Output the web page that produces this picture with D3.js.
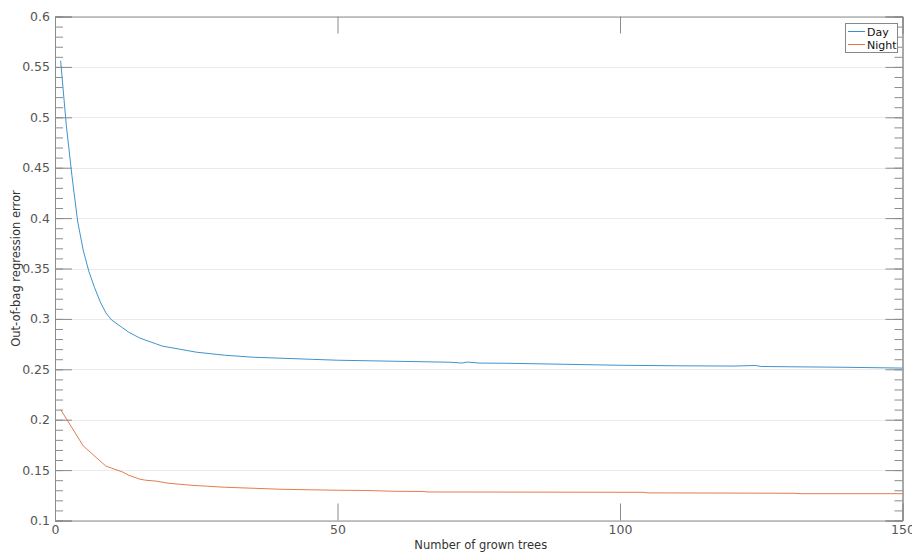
<!DOCTYPE html>
<html>
<head>
<meta charset="utf-8">
<script src="https://cdn.jsdelivr.net/npm/d3@7"></script>
<style>
  html, body { margin: 0; padding: 0; background: #fff; }
  svg { display: block; }
  text { font-family: "DejaVu Sans", "Open Sans", sans-serif; }
</style>
</head>
<body>
<svg id="chart" width="912" height="552"></svg>
<script>
// ---- data ----
const dayTrees   = [1,2,3,4,5,6,7,8,9,10,11,12,13,14,15,16,17,18,19,20,22,25,30,35,40,45,50,60,70,72,73,75,80,90,100,110,120,124,125,130,140,150];
const dayError   = [0.556,0.492,0.442,0.397,0.368,0.347,0.331,0.317,0.306,0.299,0.295,0.291,0.287,0.284,0.281,0.279,0.277,0.275,0.273,0.272,0.270,0.267,0.264,0.262,0.261,0.260,0.259,0.258,0.257,0.2562,0.2572,0.2562,0.256,0.255,0.254,0.2535,0.2532,0.2538,0.2528,0.2525,0.252,0.2512];
const nightTrees = [1,5,9,10,11,12,13,14,15,16,18,20,22,24,27,30,35,40,45,50,55,60,65,66,80,100,104,105,120,131,132,150];
const nightError = [0.210,0.174,0.154,0.152,0.150,0.148,0.145,0.143,0.141,0.140,0.139,0.137,0.136,0.135,0.134,0.133,0.132,0.131,0.1305,0.130,0.1298,0.129,0.1288,0.1283,0.1282,0.128,0.128,0.1274,0.1272,0.127,0.1266,0.1266];
const seriesNames = ["Day", "Night"];
const xTicks = [0, 50, 100, 150];
const yTicks = [0.1, 0.15, 0.2, 0.25, 0.3, 0.35, 0.4, 0.45, 0.5, 0.55, 0.6];
const yMinorTicks = d3.range(10, 61).map(v => v / 100);
const xLabel = "Number of grown trees";
const yLabel = "Out-of-bag regression error";

// ---- layout ----
const svg = d3.select("#chart");
const L = 55, R = 902.5, T = 16.5, B = 520.5;
const x = d3.scaleLinear().domain([0, 150]).range([L, R]);
const y = d3.scaleLinear().domain([0.1, 0.6]).range([B, T]);
const axisColor = "#8c8c8c";
const textColor = "#555";
const colors = ["#0072BD", "#D95319"];

// grid
svg.append("g").selectAll("line").data(yTicks).join("line")
  .attr("x1", L).attr("x2", R)
  .attr("y1", d => Math.round(y(d)) + 0.5).attr("y2", d => Math.round(y(d)) + 0.5)
  .attr("stroke", "#ebebeb").attr("stroke-width", 1);

// lines
const line = d3.line().x(d => x(d[0])).y(d => y(d[1]));
const dayData = dayTrees.map((t, i) => [t, dayError[i]]);
const nightData = nightTrees.map((t, i) => [t, nightError[i]]);
[dayData, nightData].forEach((data, i) => {
  svg.append("path").datum(data)
    .attr("fill", "none")
    .attr("stroke", colors[i])
    .attr("stroke-width", 0.9)
    .attr("stroke-opacity", 0.85)
    .attr("d", line);
});

// axes (MATLAB-style box with inward ticks)
const majorLen = 17, minorLen = 8;
const axL = d3.axisLeft(y).tickValues(yTicks).tickSize(-majorLen).tickPadding(5).tickFormat(d3.format("~g"));
const axLm = d3.axisLeft(y).tickValues(yMinorTicks).tickSize(-minorLen).tickFormat("");
const axR = d3.axisRight(y).tickValues(yTicks).tickSize(-majorLen).tickFormat("");
const axRm = d3.axisRight(y).tickValues(yMinorTicks).tickSize(-minorLen).tickFormat("");
const axB = d3.axisBottom(x).tickValues(xTicks).tickSize(-majorLen).tickPadding(5).tickFormat(d3.format("d"));
const axT = d3.axisTop(x).tickValues(xTicks).tickSize(-majorLen).tickFormat("");

function style(g) {
  g.selectAll("path.domain").attr("stroke", axisColor);
  g.selectAll(".tick line").attr("stroke", axisColor);
  g.selectAll(".tick text").attr("fill", textColor).attr("font-size", 12.5)
    .attr("font-family", "\"DejaVu Sans\", sans-serif");
}
svg.append("g").attr("transform", `translate(${L},0)`).call(axLm).call(style);
svg.append("g").attr("transform", `translate(${L},0)`).call(axL).call(style);
svg.append("g").attr("transform", `translate(${R},0)`).call(axRm).call(style);
svg.append("g").attr("transform", `translate(${R},0)`).call(axR).call(style);
svg.append("g").attr("transform", `translate(0,${B})`).call(axB).call(style);
svg.append("g").attr("transform", `translate(0,${T})`).call(axT).call(style);

// axis labels
svg.append("text")
  .attr("x", (L + R) / 2 + 2).attr("y", 549)
  .attr("text-anchor", "middle").attr("font-size", 11.5).attr("fill", "#333")
  .text(xLabel);
svg.append("text")
  .attr("transform", `translate(20,${(T + B) / 2}) rotate(-90)`)
  .attr("text-anchor", "middle").attr("font-size", 11.5).attr("fill", "#333")
  .text(yLabel);

// legend
const lg = svg.append("g").attr("transform", "translate(845,23)");
lg.append("rect").attr("x", 0.5).attr("y", 0.5).attr("width", 52).attr("height", 29)
  .attr("fill", "#fff").attr("stroke", "#888");
seriesNames.forEach((n, i) => {
  const yy = 8.5 + i * 13;
  lg.append("line").attr("x1", 3).attr("x2", 20).attr("y1", yy).attr("y2", yy)
    .attr("stroke", colors[i]).attr("stroke-width", 1).attr("stroke-opacity", 0.8);
  lg.append("text").attr("x", 22).attr("y", yy + 4).attr("font-size", 11).attr("fill", "#111").text(n);
});
</script>
</body>
</html>
